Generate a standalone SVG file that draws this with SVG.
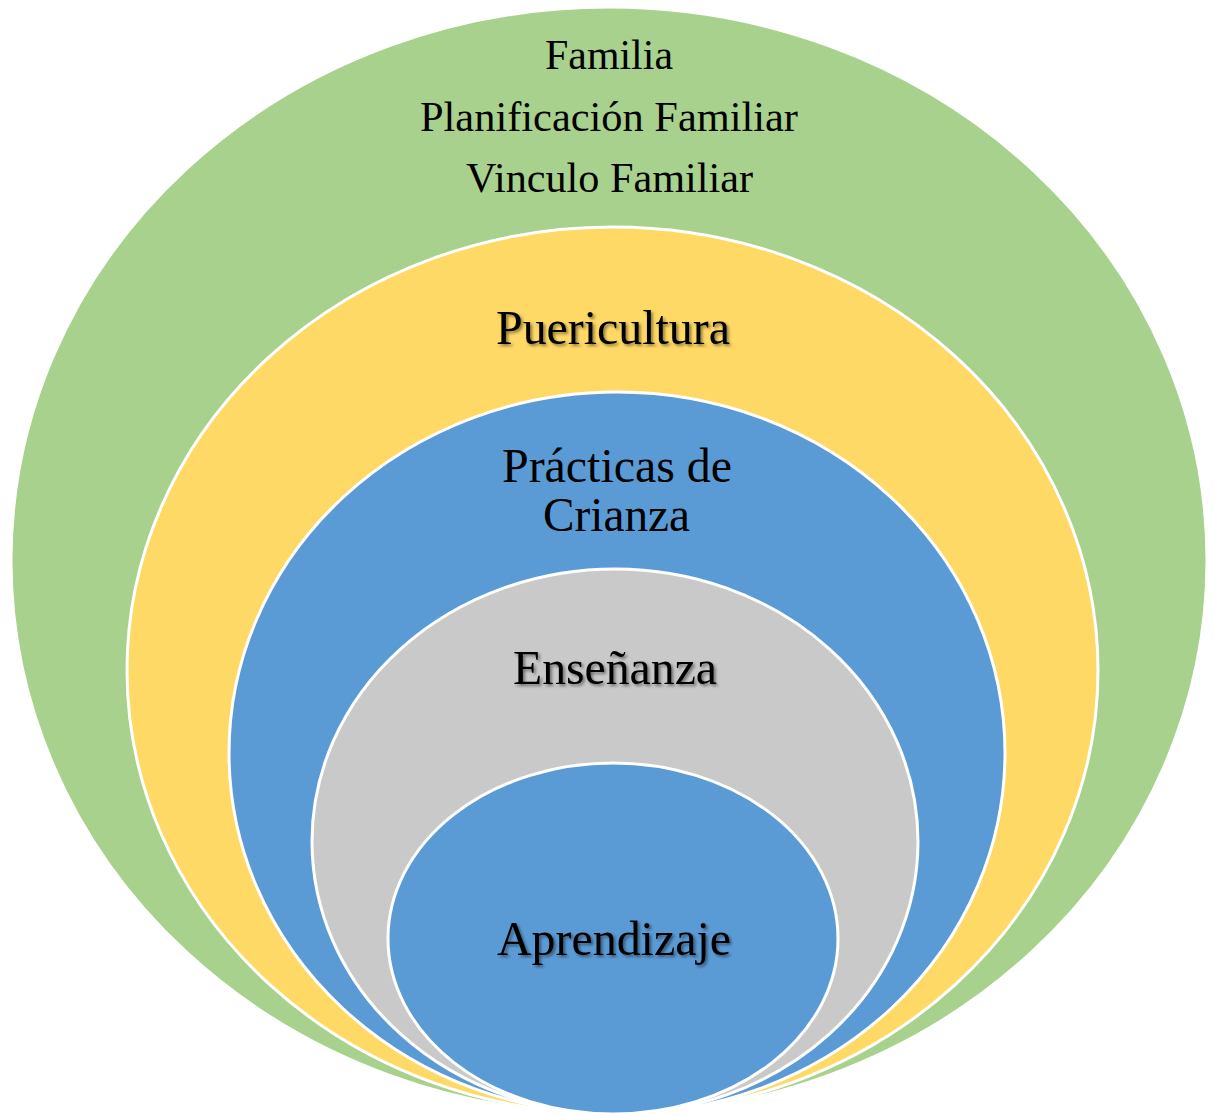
<svg xmlns="http://www.w3.org/2000/svg" width="1215" height="1116" viewBox="0 0 1215 1116">
<style>
.ring{stroke:#FFFFFF;stroke-width:3}
.t{font-family:"Liberation Serif","Times New Roman",serif;fill:#000;text-anchor:middle}
.s1{font-size:42.5px}
.s2{font-size:48px}
.sh{filter:url(#shadow)}
</style>
<defs>
<filter id="shadow" x="-10%" y="-30%" width="120%" height="160%">
<feDropShadow dx="2" dy="2" stdDeviation="1.5" flood-color="#000" flood-opacity="0.45"/>
</filter>
</defs>
<rect width="1215" height="1116" fill="#FFFFFF"/>
<g id="familia">
<ellipse class="ring" cx="609" cy="560.5" rx="598" ry="553.5" fill="#A9D18E"/>
<text class="t s1" x="609" y="69" textLength="128" lengthAdjust="spacingAndGlyphs">Familia</text>
<text class="t s1" x="609" y="131" textLength="378" lengthAdjust="spacingAndGlyphs">Planificación Familiar</text>
<text class="t s1" x="609.5" y="192" textLength="287" lengthAdjust="spacingAndGlyphs">Vinculo Familiar</text>
</g>
<g id="puericultura">
<ellipse class="ring" cx="612.5" cy="670.5" rx="485.5" ry="443.5" fill="#FFD966"/>
<text class="t s2 sh" x="613" y="344" textLength="234" lengthAdjust="spacingAndGlyphs">Puericultura</text>
</g>
<g id="practicas">
<ellipse class="ring" cx="617" cy="753" rx="388" ry="361" fill="#5B9BD5"/>
<text class="t s2" x="617" y="482" textLength="230" lengthAdjust="spacingAndGlyphs">Prácticas de</text>
<text class="t s2" x="616.5" y="531" textLength="147" lengthAdjust="spacingAndGlyphs">Crianza</text>
</g>
<g id="ensenanza">
<ellipse class="ring" cx="615" cy="841.5" rx="303" ry="272.5" fill="#C9C9C9"/>
<text class="t s2 sh" x="615" y="684" textLength="204" lengthAdjust="spacingAndGlyphs">Enseñanza</text>
</g>
<g id="aprendizaje">
<ellipse class="ring" cx="613" cy="938.5" rx="225" ry="175.5" fill="#5B9BD5"/>
<text class="t s2 sh" x="614" y="955" textLength="234" lengthAdjust="spacingAndGlyphs">Aprendizaje</text>
</g>
<g id="connectors"></g>
</svg>
